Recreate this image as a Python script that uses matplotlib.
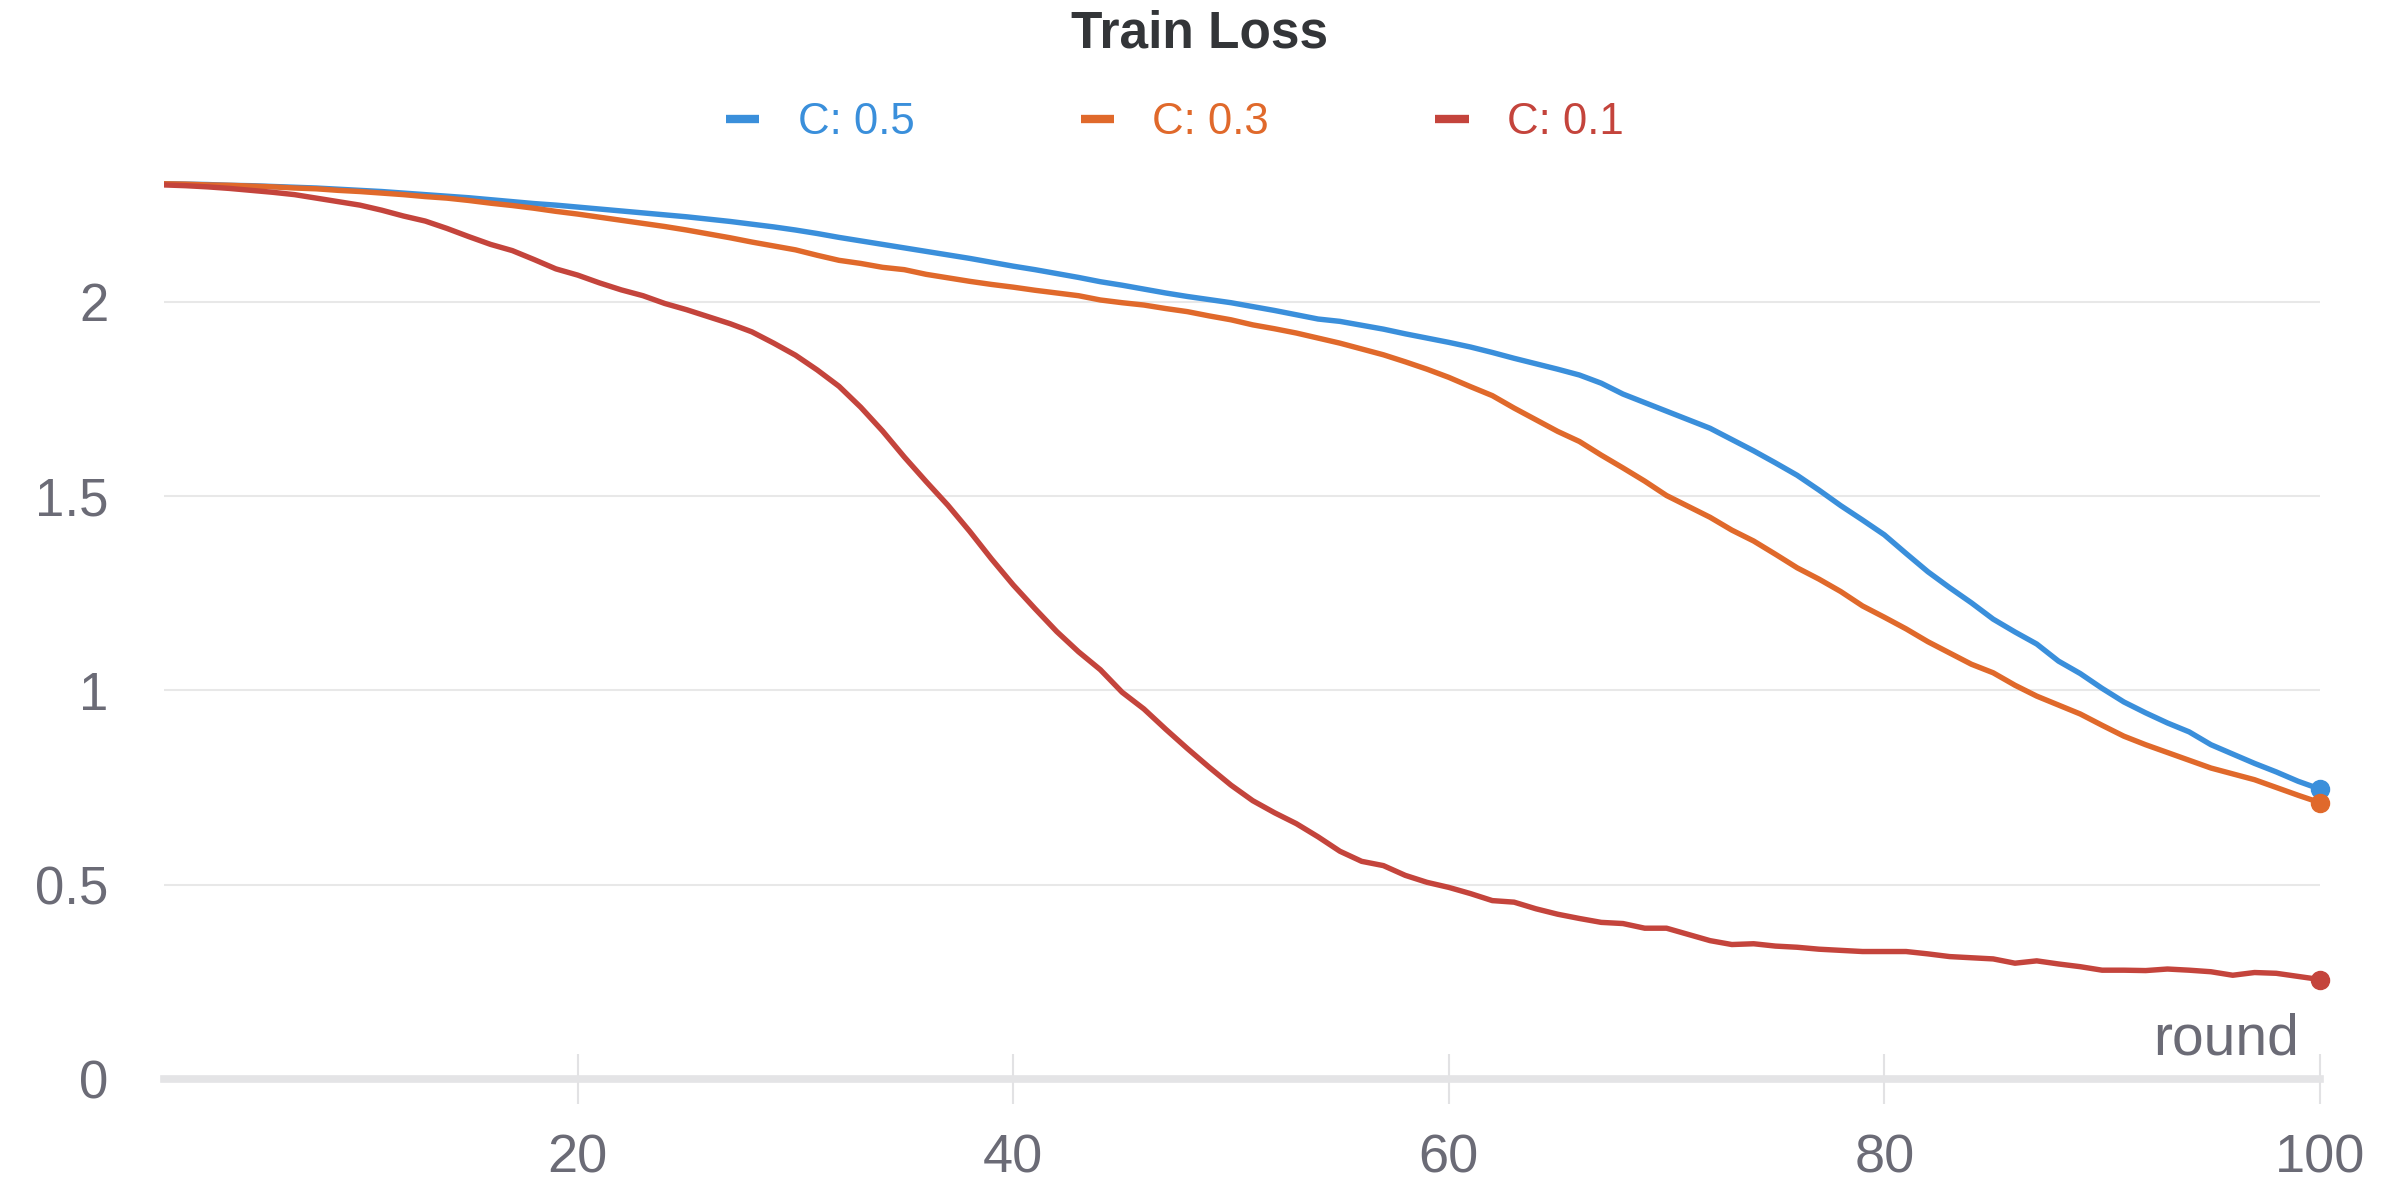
import matplotlib
matplotlib.use("Agg")
import matplotlib.pyplot as plt
import numpy as np

plt.rcParams['font.family'] = ['Liberation Sans', 'DejaVu Sans']

# Data
rounds = np.arange(1, 101)

loss_c05 = [
    2.303, 2.302, 2.301, 2.299, 2.298, 2.296, 2.294, 2.292, 2.289, 2.286,
    2.283, 2.279, 2.275, 2.271, 2.267, 2.262, 2.257, 2.252, 2.248, 2.243,
    2.238, 2.233, 2.228, 2.223, 2.218, 2.212, 2.206, 2.199, 2.192, 2.184,
    2.175, 2.165, 2.156, 2.147, 2.138, 2.129, 2.120, 2.111, 2.101, 2.091,
    2.082, 2.072, 2.062, 2.051, 2.042, 2.032, 2.022, 2.013, 2.005, 1.997,
    1.987, 1.977, 1.966, 1.955, 1.949, 1.939, 1.929, 1.917, 1.906, 1.895,
    1.883, 1.869, 1.854, 1.840, 1.826, 1.811, 1.790, 1.762, 1.740, 1.718,
    1.696, 1.674, 1.645, 1.616, 1.585, 1.553, 1.515, 1.475, 1.438, 1.400,
    1.352, 1.305, 1.264, 1.225, 1.183, 1.150, 1.119, 1.075, 1.043, 1.005,
    0.970, 0.942, 0.916, 0.893, 0.860, 0.836, 0.812, 0.790, 0.766, 0.746,
]

loss_c03 = [
    2.303, 2.302, 2.300, 2.299, 2.297, 2.295, 2.292, 2.290, 2.286, 2.283,
    2.279, 2.275, 2.270, 2.266, 2.260, 2.253, 2.247, 2.240, 2.232, 2.225,
    2.217, 2.209, 2.201, 2.193, 2.184, 2.174, 2.164, 2.153, 2.143, 2.133,
    2.119, 2.106, 2.098, 2.088, 2.082, 2.070, 2.061, 2.052, 2.044, 2.037,
    2.029, 2.022, 2.015, 2.004, 1.997, 1.991, 1.982, 1.974, 1.963, 1.953,
    1.940, 1.930, 1.919, 1.906, 1.893, 1.878, 1.863, 1.845, 1.826, 1.805,
    1.781, 1.758, 1.726, 1.696, 1.666, 1.640, 1.605, 1.572, 1.538, 1.501,
    1.473, 1.445, 1.412, 1.384, 1.350, 1.315, 1.286, 1.254, 1.217, 1.188,
    1.158, 1.125, 1.096, 1.067, 1.045, 1.013, 0.985, 0.962, 0.939, 0.910,
    0.882, 0.860, 0.840, 0.820, 0.800, 0.785, 0.770, 0.750, 0.730, 0.711,
]

loss_c01 = [
    2.300, 2.298, 2.295, 2.291, 2.286, 2.281, 2.275, 2.266, 2.257, 2.248,
    2.235, 2.220, 2.207, 2.188, 2.167, 2.147, 2.131, 2.108, 2.084, 2.068,
    2.048, 2.030, 2.015, 1.995, 1.979, 1.961, 1.943, 1.922, 1.893, 1.862,
    1.824, 1.782, 1.728, 1.667, 1.600, 1.537, 1.476, 1.409, 1.338, 1.271,
    1.210, 1.151, 1.099, 1.053, 0.995, 0.952, 0.900, 0.850, 0.802, 0.756,
    0.716, 0.685, 0.657, 0.623, 0.586, 0.560, 0.549, 0.524, 0.506, 0.493,
    0.477, 0.459, 0.455, 0.438, 0.424, 0.413, 0.403, 0.400, 0.388, 0.388,
    0.372, 0.356, 0.346, 0.348, 0.342, 0.339, 0.334, 0.331, 0.328, 0.328,
    0.328, 0.322, 0.315, 0.312, 0.309, 0.298, 0.304, 0.296, 0.289, 0.280,
    0.280, 0.279, 0.283, 0.280, 0.276, 0.267, 0.274, 0.272, 0.264, 0.256,
]

labels = ["C: 0.5", "C: 0.3", "C: 0.1"]
colors = ["#3a8fdb", "#e0692b", "#c4443c"]
x_ticks = [20, 40, 60, 80, 100]
y_ticks = [0, 0.5, 1, 1.5, 2]

fig = plt.figure(figsize=(24, 12), dpi=100)
ax = fig.add_axes([0.0683, 0.1008, 0.8983, 0.7775])

for series, label, color in zip([loss_c05, loss_c03, loss_c01], labels, colors):
    ax.plot(rounds, series, color=color, lw=3.9, label=label,
            solid_joinstyle='round', zorder=3)
    ax.plot(rounds[-1], series[-1], 'o', color=color, ms=13,
            clip_on=False, zorder=4)

ax.set_xlim(1, 100)
ax.set_ylim(0, 2.4)
ax.set_xticks(x_ticks)
ax.set_yticks(y_ticks)
ax.set_yticklabels(["0", "0.5", "1", "1.5", "2"])

ax.grid(axis='y', color='#e8e8e8', lw=1.5, zorder=0)
ax.set_axisbelow(True)
for side in ['top', 'left', 'right']:
    ax.spines[side].set_visible(False)
ax.spines['bottom'].set_color('#e4e4e6')
ax.spines['bottom'].set_linewidth(5.5)
ax.spines['bottom'].set_zorder(1)

ax.tick_params(axis='x', direction='inout', length=36, width=1.5,
               color='#e2e2e4', pad=21, labelsize=39, labelcolor='#6b6b76')
ax.tick_params(axis='y', length=0, pad=40, labelsize=38, labelcolor='#6b6b76')

ax.annotate("round", xy=(100, 0), xycoords='data', xytext=(-15, 9),
            textcoords='offset points', ha='right', va='bottom',
            fontsize=41, color='#6b6b76')

fig.text(0.5, 0.972, "Train Loss", ha='center', va='center',
         fontsize=37, fontweight='bold', color='#333538')

leg = fig.legend(loc='center', bbox_to_anchor=(0.4895, 0.898), ncol=3,
                 frameon=False, fontsize=31.5, handlelength=0.77,
                 handletextpad=0.87, columnspacing=3.8, labelcolor=colors)
for h in leg.legend_handles:
    h.set_linewidth(6)
    h.set_solid_capstyle('butt')

fig.savefig("out.png", dpi=100)
